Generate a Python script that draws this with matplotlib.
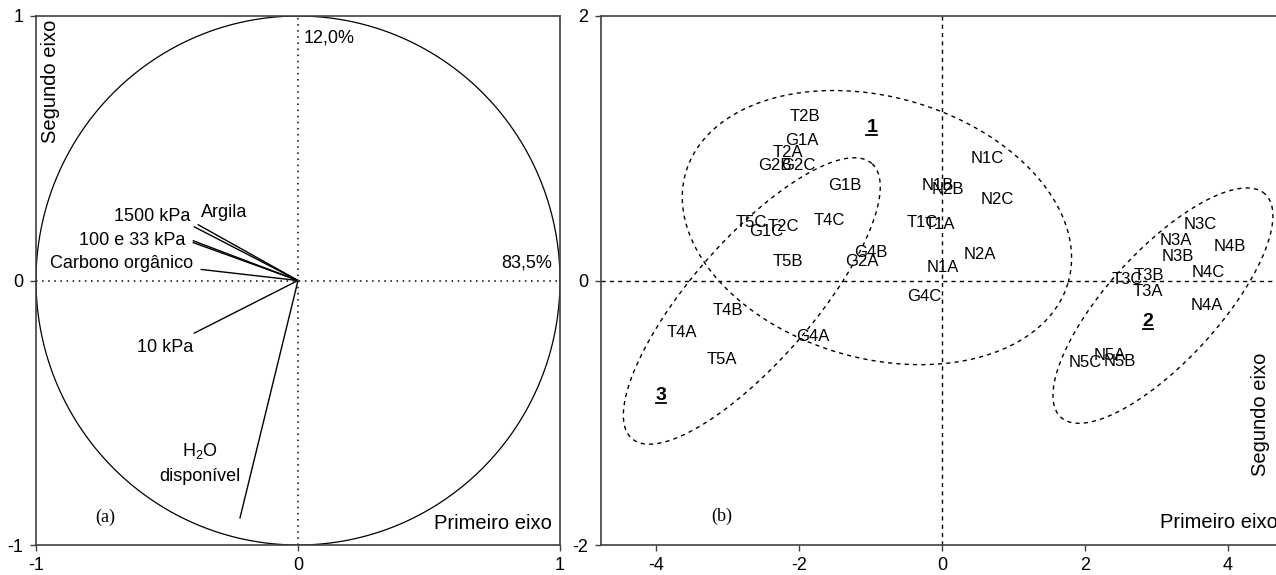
import numpy as np
import matplotlib
matplotlib.use("Agg")
import matplotlib.pyplot as plt
from matplotlib.lines import Line2D

plt.rcParams["font.family"] = ["Liberation Sans", "DejaVu Sans"]
plt.rcParams["mathtext.fontset"] = "custom"
plt.rcParams["mathtext.rm"] = "Liberation Sans"
plt.rcParams["axes.unicode_minus"] = False

# (a) correlation circle: loadings of the variables
var_names = ["Argila", "1500 kPa", "100 kPa", "33 kPa", "Carbono orgânico", "10 kPa", "H2O disponível"]
load_x = [-0.383, -0.398, -0.402, -0.402, -0.372, -0.398, -0.222]
load_y = [0.212, 0.204, 0.151, 0.144, 0.042, -0.200, -0.900]

# labels shown beside the vectors (text, x, y, ha)
var_labels = [
    ("Argila", -0.372, 0.257, "left"),
    ("1500 kPa", -0.41, 0.242, "right"),
    ("100 e 33 kPa", -0.429, 0.151, "right"),
    ("Carbono orgânico", -0.402, 0.064, "right"),
    ("10 kPa", -0.506, -0.253, "center"),
    ("H$_2$O", -0.375, -0.643, "center"),
    ("disponível", -0.375, -0.741, "center"),
]
expl_axis1 = "83,5%"
expl_axis2 = "12,0%"

# (b) scores of the samples
samples = ["T2B", "G1A", "T2A", "G2B", "G2C", "G1B", "N1B", "N2B", "N1C", "N2C",
           "T5C", "T2C", "G1C", "T4C", "T1C", "T1A", "N2A", "G4B", "G2A", "T5B",
           "N1A", "G4C", "T4B", "T4A", "G4A", "T5A",
           "N3C", "N3A", "N4B", "N3B", "T3C", "T3B", "N4C", "T3A", "N4A",
           "N5C", "N5A", "N5B"]
score_x = [-1.92, -1.96, -2.15, -2.34, -2.01, -1.36, -0.06, 0.08, 0.63, 0.77,
           -2.66, -2.22, -2.46, -1.57, -0.28, -0.03, 0.53, -0.99, -1.12, -2.15,
           0.01, -0.25, -2.99, -3.64, -1.80, -3.08,
           3.61, 3.27, 4.03, 3.30, 2.59, 2.90, 3.72, 2.88, 3.71,
           2.00, 2.35, 2.49]
score_y = [1.24, 1.06, 0.97, 0.87, 0.87, 0.72, 0.72, 0.69, 0.92, 0.61,
           0.44, 0.41, 0.37, 0.45, 0.44, 0.42, 0.20, 0.21, 0.14, 0.14,
           0.10, -0.12, -0.23, -0.39, -0.42, -0.60,
           0.42, 0.30, 0.26, 0.18, 0.01, 0.04, 0.06, -0.08, -0.19,
           -0.62, -0.57, -0.61]

# groups: label, label position, ellipse centre and two conjugate semi-axes
group_names = ["1", "2", "3"]
group_label_xy = [(-0.98, 1.16), (2.88, -0.31), (-3.93, -0.87)]
group_centre = [(-0.91, 0.40), (3.09, -0.19), (-2.66, -0.155)]
group_u = [(2.675, -0.4145), (1.428, 0.844), (1.678, 1.040)]
group_v = [(0.506, 0.950), (-0.572, 0.282), (-0.642, 0.302)]

W, H = 1276, 575
fig = plt.figure(figsize=(W / 100, H / 100), dpi=100)
ax1 = fig.add_axes([36 / W, 30 / H, (560 - 36) / W, (545 - 16) / H])
ax2 = fig.add_axes([601 / W, 30 / H, (1282 - 601) / W, (545 - 16) / H])

spine_col = "#404040"
for ax in (ax1, ax2):
    for s in ax.spines.values():
        s.set_color(spine_col)
        s.set_linewidth(1.2)
    ax.tick_params(direction="out", length=4, width=1, color=spine_col,
                   labelsize=13, pad=5)

# ---- panel (a)
t = np.linspace(0, 2 * np.pi, 500)
ax1.plot(np.cos(t), np.sin(t), color="k", lw=0.9)
ax1.axhline(0, color="k", ls=(0, (1, 3)), lw=1.1)
ax1.axvline(0, color="k", ls=(0, (1, 3)), lw=1.1)
for x, y in zip(load_x, load_y):
    ax1.plot([0, x], [0, y], color="k", lw=1.0, solid_capstyle="butt")
for txt, x, y, ha in var_labels:
    ax1.text(x, y, txt, ha=ha, va="center", fontsize=13)
ax1.text(0.02, 0.915, expl_axis2, ha="left", va="center", fontsize=13)
ax1.text(0.97, 0.065, expl_axis1, ha="right", va="center", fontsize=13)
ax1.text(-0.946, 0.985, "Segundo eixo", rotation=90, ha="center", va="top", fontsize=14.5)
ax1.text(0.97, -0.92, "Primeiro eixo", ha="right", va="center", fontsize=14.5)
ax1.text(-0.736, -0.894, "(a)", ha="center", va="center", fontsize=13,
         family=["Liberation Serif", "DejaVu Serif"])
ax1.set_xlim(-1, 1)
ax1.set_ylim(-1, 1)
ax1.set_xticks([-1, 0, 1])
ax1.set_yticks([-1, 0, 1])

# ---- panel (b)
ax2.axhline(0, color="k", ls=(0, (3, 3)), lw=1.0)
ax2.axvline(0, color="k", ls=(0, (3, 3)), lw=1.0)
for (cx, cy), (ux, uy), (vx, vy) in zip(group_centre, group_u, group_v):
    ax2.plot(cx + ux * np.cos(t) + vx * np.sin(t),
             cy + uy * np.cos(t) + vy * np.sin(t),
             color="k", ls=(0, (3, 3)), lw=1.0)
for name, x, y in zip(samples, score_x, score_y):
    ax2.text(x, y, name, ha="center", va="center", fontsize=12)
group_texts = []
for name, (x, y) in zip(group_names, group_label_xy):
    group_texts.append(ax2.text(x, y, name, ha="center", va="center",
                                fontsize=14, fontweight="bold"))
ax2.text(4.70, -1.83, "Primeiro eixo", ha="right", va="center", fontsize=14.5)
ax2.text(4.45, -1.48, "Segundo eixo", rotation=90, ha="center", va="bottom", fontsize=14.5)
ax2.text(-3.08, -1.78, "(b)", ha="center", va="center", fontsize=13,
         family=["Liberation Serif", "DejaVu Serif"])
ax2.set_xlim((601 - 942) / 71.5, (1282 - 942) / 71.5)
ax2.set_ylim(-2, 2)
ax2.set_xticks([-4, -2, 0, 2, 4])
ax2.set_yticks([-2, 0, 2])
ax2.spines["right"].set_visible(False)

# underline the group numbers
fig.canvas.draw()
r = fig.canvas.get_renderer()
for gt in group_texts:
    bb = gt.get_window_extent(r)
    fig.add_artist(Line2D([bb.x0 / W, bb.x1 / W], [(bb.y0 + 1) / H, (bb.y0 + 1) / H],
                          color="k", lw=1.3))

fig.savefig("out.png", dpi=100)
